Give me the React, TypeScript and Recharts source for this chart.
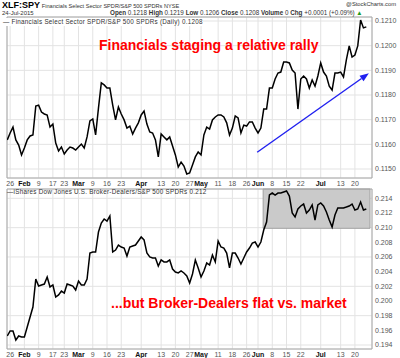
import { LineChart, Line, XAxis, YAxis, CartesianGrid, ReferenceArea, ReferenceLine } from 'recharts';

const FONT = '"Liberation Sans", Arial, sans-serif';
const BLUE = '#2020f0';
const RED = '#ff0000';

// XLF:SPY ratio, daily closes 23-Jan-2015 .. 24-Jul-2015 (trading days)
const xlfSpy = [
  0.11618, 0.11646, 0.11670, 0.11618, 0.11597, 0.11557, 0.11585, 0.11618, 0.11634, 0.11638,
  0.11755, 0.11759, 0.11731, 0.11723, 0.11719, 0.11670, 0.11682, 0.11605, 0.11573, 0.11589,
  0.11561, 0.11577, 0.11589, 0.11585, 0.11577, 0.11589, 0.11601, 0.11585, 0.11630, 0.11695,
  0.11703, 0.11638, 0.11747, 0.11849, 0.11841, 0.11828, 0.11828, 0.11759, 0.11699, 0.11751,
  0.11723, 0.11699, 0.11666, 0.11674, 0.11642, 0.11666, 0.11687, 0.11719, 0.11735, 0.11682,
  0.11650, 0.11646, 0.11618, 0.11549, 0.11642, 0.11630, 0.11618, 0.11630, 0.11593, 0.11557,
  0.11508, 0.11528, 0.11512, 0.11480, 0.11484, 0.11516, 0.11549, 0.11569, 0.11557, 0.11638,
  0.11670, 0.11662, 0.11699, 0.11711, 0.11719, 0.11719, 0.11711, 0.11687, 0.11638, 0.11666,
  0.11715, 0.11707, 0.11646, 0.11678, 0.11674, 0.11691, 0.11691, 0.11666, 0.11646, 0.11666,
  0.11743, 0.11743, 0.11828, 0.11828, 0.11865, 0.11889, 0.11893, 0.11934, 0.11934, 0.11930,
  0.11901, 0.11889, 0.11743, 0.11865, 0.11877, 0.11865, 0.11828, 0.11861, 0.11836, 0.11877,
  0.11930, 0.11893, 0.11877, 0.11836, 0.11820, 0.11889, 0.11889, 0.11893, 0.11873, 0.11942,
  0.11999, 0.11954, 0.11962, 0.11999, 0.12104, 0.12072, 0.12076,
];

// IAI:SPY ratio, same days
const iaiSpy = [
  0.19523, 0.19591, 0.19591, 0.19468, 0.19523, 0.19509, 0.19509, 0.19645, 0.19782, 0.19918,
  0.20300, 0.20204, 0.20218, 0.20231, 0.20327, 0.20191, 0.20218, 0.20054, 0.20082, 0.20136,
  0.20109, 0.20231, 0.20218, 0.20204, 0.20150, 0.20272, 0.20218, 0.20218, 0.20300, 0.20654,
  0.20668, 0.20668, 0.20940, 0.21063, 0.21118, 0.21090, 0.21159, 0.20668, 0.20695, 0.20763,
  0.20736, 0.20722, 0.20613, 0.20736, 0.20750, 0.20763, 0.20818, 0.20872, 0.20832, 0.20654,
  0.20600, 0.20586, 0.20586, 0.20477, 0.20559, 0.20532, 0.20532, 0.20559, 0.20436, 0.20395,
  0.20382, 0.20409, 0.20382, 0.20341, 0.20245, 0.20368, 0.20559, 0.20450, 0.20327, 0.20409,
  0.20518, 0.20490, 0.20627, 0.20532, 0.20818, 0.20736, 0.20722, 0.20654, 0.20450, 0.20654,
  0.20654, 0.20586, 0.20504, 0.20586, 0.20668, 0.20722, 0.20790, 0.20804, 0.20736, 0.20804,
  0.20968, 0.21077, 0.21445, 0.21472, 0.21445, 0.21472, 0.21472, 0.21486, 0.21500, 0.21431,
  0.21200, 0.21145, 0.21254, 0.21295, 0.21322, 0.21200, 0.21240, 0.21309, 0.21104, 0.21309,
  0.21336, 0.21295, 0.21213, 0.21104, 0.21009, 0.21172, 0.21268, 0.21268, 0.21268, 0.21281,
  0.21295, 0.21322, 0.21240, 0.21254, 0.21349, 0.21240, 0.21254,
];

// trading-day index of each date label, and the label itself
const tickIdx = [1, 6, 11, 16, 20, 25, 30, 35, 40, 47, 54, 59, 64, 68, 74, 79, 84, 88, 93, 98, 103, 110, 117, 122];
const tickText = ['26', 'Feb', '9', '17', '23', 'Mar', '9', '16', '23', 'Apr', '13', '20', '27', 'May', '11', '18', '26', 'Jun', '8', '15', '22', 'Jul', '13', '20'];
const months = ['Feb', 'Mar', 'Apr', 'May', 'Jun', 'Jul'];

const topTicks = [0.1150, 0.1155, 0.1160, 0.1165, 0.1170, 0.1175, 0.1180, 0.1185, 0.1190, 0.1195, 0.1200, 0.1205, 0.1210];
const bottomTicks = [0.194, 0.196, 0.198, 0.200, 0.202, 0.204, 0.206, 0.208, 0.210, 0.212, 0.214];

const X_DOMAIN = [-0.1, 128];
const TOP_DOMAIN = [0.114635, 0.121162];
const BOTTOM_DOMAIN = [0.193455, 0.215268];

// sideways range box on the broker-dealer panel
const boxStart = 89.8;
const boxEnd = 127.3;
const boxLow = 0.20991;

// trend arrow on the financials panel
const arrowFrom = { x: 87.7, y: 0.11568 };
const arrowTo = { x: 126.9, y: 0.11888 };

const data = xlfSpy.map((v, i) => ({ i, xlf: v, iai: iaiSpy[i] }));

function DateTick({ x, y, payload }: any) {
  const label = tickText[tickIdx.indexOf(payload.value)];
  const bold = months.includes(label);
  return (
    <text x={x} y={y} dy={7.5} textAnchor="middle" fontSize={7} fontFamily={FONT}
      fontWeight={bold ? 700 : 400} fill={bold ? '#111' : '#555'}>
      {label}
    </text>
  );
}

function Arrow(props: any) {
  const { x1, y1, x2, y2 } = props;
  const ang = Math.atan2(y2 - y1, x2 - x1);
  const len = 9;
  const half = 3.5;
  const bx = x2 - len * Math.cos(ang);
  const by = y2 - len * Math.sin(ang);
  const px = -Math.sin(ang) * half;
  const py = Math.cos(ang) * half;
  return (
    <g>
      <line x1={x1} y1={y1} x2={bx} y2={by} stroke={BLUE} strokeWidth={1.4} />
      <polygon points={`${x2},${y2} ${bx + px},${by + py} ${bx - px},${by - py}`} fill={BLUE} />
    </g>
  );
}

const small = { fontSize: 6.5, color: '#333', whiteSpace: 'nowrap' as const, position: 'absolute' as const, lineHeight: '8px' };

export default function App() {
  return (
    <div style={{ position: 'absolute', left: 0, top: 0, width: 400, height: 358, background: '#fff', fontFamily: FONT, overflow: 'hidden' }}>
      <div style={{ position: 'absolute', left: 0, top: 0 }}>
        <LineChart width={400} height={190} data={data} margin={{ top: 17, right: 0, bottom: 0, left: 7 }}>
          <CartesianGrid stroke="#e3e3e3" />
          <XAxis type="number" dataKey="i" domain={X_DOMAIN} ticks={tickIdx} interval={0} allowDataOverflow
            tick={<DateTick />} tickLine={false} axisLine={false} tickSize={0} tickMargin={0} height={12} />
          <YAxis orientation="right" type="number" domain={TOP_DOMAIN} ticks={topTicks} allowDataOverflow
            width={28} tickLine={false} axisLine={false} tickSize={0} tickMargin={3}
            tickFormatter={(v: number) => v.toFixed(4)} tick={{ fontSize: 7, fill: '#555', fontFamily: FONT }} />
          <ReferenceArea x1={X_DOMAIN[0]} x2={X_DOMAIN[1]} y1={TOP_DOMAIN[0]} y2={TOP_DOMAIN[1]} fill="none" stroke="#a8a8a8" ifOverflow="visible" />
          <Line dataKey="xlf" stroke="#000" strokeWidth={1.5} dot={false} isAnimationActive={false} />
          <ReferenceLine segment={[arrowFrom, arrowTo]} shape={Arrow} ifOverflow="visible" />
        </LineChart>
      </div>
      <div style={{ position: 'absolute', left: 0, top: 180 }}>
        <LineChart width={400} height={178} data={data} margin={{ top: 9, right: 0, bottom: 0, left: 7 }}>
          <CartesianGrid stroke="#e3e3e3" />
          <XAxis type="number" dataKey="i" domain={X_DOMAIN} ticks={tickIdx} interval={0} allowDataOverflow
            tick={<DateTick />} tickLine={false} axisLine={false} tickSize={0} tickMargin={0} height={9} />
          <YAxis orientation="right" type="number" domain={BOTTOM_DOMAIN} ticks={bottomTicks} allowDataOverflow
            width={28} tickLine={false} axisLine={false} tickSize={0} tickMargin={3}
            tickFormatter={(v: number) => v.toFixed(3)} tick={{ fontSize: 7, fill: '#555', fontFamily: FONT }} />
          <ReferenceArea x1={boxStart} x2={boxEnd} y1={boxLow} y2={BOTTOM_DOMAIN[1]} fill="#cacaca" fillOpacity={1} stroke="#a0a0a0" />
          <ReferenceArea x1={X_DOMAIN[0]} x2={X_DOMAIN[1]} y1={BOTTOM_DOMAIN[0]} y2={BOTTOM_DOMAIN[1]} fill="none" stroke="#a8a8a8" ifOverflow="visible" />
          <Line dataKey="iai" stroke="#000" strokeWidth={1.5} dot={false} isAnimationActive={false} />
        </LineChart>
      </div>

      <div style={{ ...small, left: 2, top: 1 }}>
        <b style={{ fontSize: 9, color: '#000' }}>XLF:SPY</b>{' '}
        <span style={{ fontSize: 5.6 }}>Financials Select Sector SPDR/S&amp;P 500 SPDRs NYSE</span>
      </div>
      <div style={{ ...small, left: 346, top: 0, fontSize: 5.8 }}>@StockCharts.com</div>
      <div style={{ ...small, left: 2, top: 9, fontSize: 6 }}>24-Jul-2015</div>
      <div style={{ ...small, left: 110, top: 9, fontSize: 6.3 }}>
        <b>Open</b> 0.1218 <b>High</b> 0.1219 <b>Low</b> 0.1206 <b>Close</b> 0.1208 <b>Volume</b> 0 <b>Chg</b> +0.0001 (+0.09%)
        <span style={{ color: '#1a9a1a' }}> ▲</span>
      </div>
      <div style={{ ...small, left: 3, top: 18, fontSize: 6.3, letterSpacing: 0.25, background: '#fff' }}>
        — Financials Select Sector SPDR/S&amp;P 500 SPDRs (Daily) 0.1208
      </div>
      <div style={{ ...small, left: 7, top: 188, fontSize: 6.3, letterSpacing: 0.25 }}>
        —iShares Dow Jones U.S. Broker-Dealers/S&amp;P 500 SPDRs 0.212
      </div>

      <div style={{ position: 'absolute', left: 99, top: 37, fontSize: 14, fontWeight: 700, color: RED, whiteSpace: 'nowrap', lineHeight: '16px' }}>
        Financials staging a relative rally
      </div>
      <div style={{ position: 'absolute', left: 111, top: 295, fontSize: 14, fontWeight: 700, color: RED, whiteSpace: 'nowrap', lineHeight: '16px' }}>
        ...but Broker-Dealers flat vs. market
      </div>
    </div>
  );
}
